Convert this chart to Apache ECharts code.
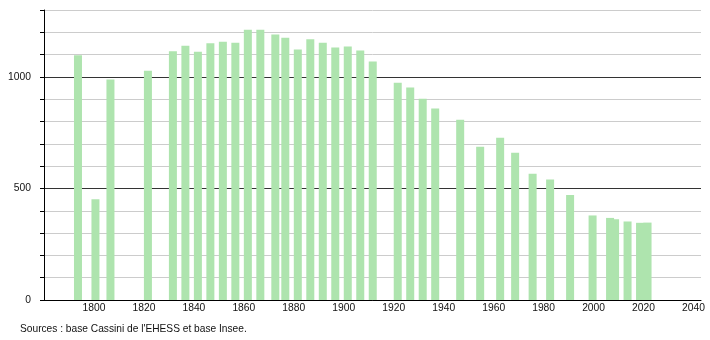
<!DOCTYPE html>
<html>
<head>
<meta charset="utf-8">
<script src="https://cdn.jsdelivr.net/npm/echarts@6/dist/echarts.min.js"></script>
<style>
html,body{margin:0;padding:0;background:#fff;}
#c{width:710px;height:340px;}
</style>
</head>
<body>
<div id="c"></div>
<script>
const years = [1793,1800,1806,1821,1831,1836,1841,1846,1851,1856,1861,1866,1872,1876,1881,1886,1891,1896,1901,1906,1911,1921,1926,1931,1936,1946,1954,1962,1968,1975,1982,1990,1999,2006,2008,2013,2018,2021];
const population = [1097,452,988,1028,1115,1140,1113,1151,1158,1153,1212,1212,1190,1176,1123,1169,1153,1132,1136,1118,1069,974,953,902,858,808,687,727,660,566,540,471,379,368,362,352,346,347];
const xTicks = [1800,1820,1840,1860,1880,1900,1920,1940,1960,1980,2000,2020,2040];
const yLabels = [0,500,1000];
const sourceText = "Sources : base Cassini de l'EHESS et base Insee.";

const BAR_OFFSET = 0.6;
const data = years.map((y, i) => [y + BAR_OFFSET, population[i]]);

const FONT = 'Liberation Sans, Arial, sans-serif';
const chart = echarts.init(document.getElementById('c'), null, {renderer: 'canvas'});
chart.setOption({
  animation: false,
  backgroundColor: '#ffffff',
  grid: {left: 44, right: 9, top: 10, bottom: 40, containLabel: false},
  xAxis: {
    type: 'value', min: 1780, max: 2043, interval: 20,
    axisLine: {show: true, onZero: false, lineStyle: {color: '#000', width: 1}},
    axisTick: {show: false},
    splitLine: {show: false},
    axisLabel: {
      margin: 3, fontSize: 10.3, color: '#111', fontFamily: FONT,
      showMinLabel: false, showMaxLabel: false,
      formatter: v => xTicks.includes(v) ? String(v) : ''
    }
  },
  yAxis: {
    type: 'value', min: 0, max: 1300, interval: 100,
    axisLine: {show: true, lineStyle: {color: '#000', width: 1}},
    axisTick: {show: true, length: 4, lineStyle: {color: '#000'}},
    splitLine: {show: true, lineStyle: {color: ['#333','#ccc','#ccc','#ccc','#ccc'], width: 1}},
    axisLabel: {
      margin: 13, fontSize: 10.3, color: '#111', fontFamily: FONT,
      formatter: v => yLabels.includes(v) ? String(v) : ''
    }
  },
  series: [{
    type: 'bar',
    data: data,
    barWidth: 8,
    itemStyle: {color: '#aee4ae'},
    silent: true
  }],
  graphic: [{
    type: 'text', left: 20, top: 324,
    style: {text: sourceText, fontSize: 10.2, fill: '#111', fontFamily: FONT}
  }]
});
</script>
</body>
</html>
